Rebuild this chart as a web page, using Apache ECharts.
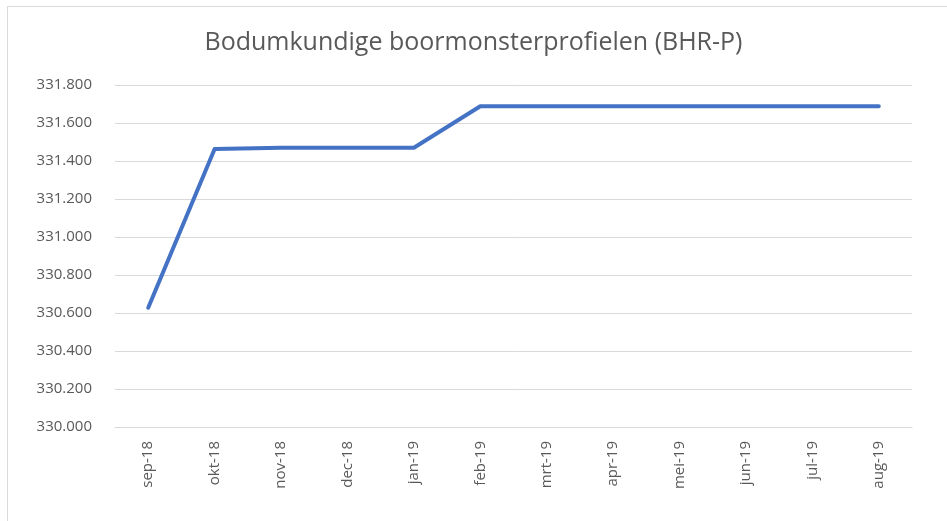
<!DOCTYPE html>
<html lang="nl">

<head>
    <meta charset="UTF-8">
    <title>Bodumkundige boormonsterprofielen (BHR-P)</title>
    <style>
        body {
            margin: 0;
            background-color: #fff;
        }

        .frame {
            position: absolute;
            left: 7px;
            top: 6px;
            width: 960px;
            height: 540px;
            border: 1px solid #d9d9d9;
        }

        #chart {
            position: absolute;
            left: 0;
            top: 0;
            width: 947px;
            height: 521px;
        }
    </style>
</head>

<body>
    <div class="frame"></div>
    <div id="chart"></div>
    <script src="https://cdn.jsdelivr.net/npm/echarts@6/dist/echarts.min.js"></script>
    <script>
        const months = ['sep-18', 'okt-18', 'nov-18', 'dec-18', 'jan-19', 'feb-19',
            'mrt-19', 'apr-19', 'mei-19', 'jun-19', 'jul-19', 'aug-19'];
        const values = [330628, 331463, 331470, 331470, 331470, 331688,
            331688, 331688, 331688, 331688, 331688, 331688];

        const textColor = '#595959';
        const font = 'Open Sans';

        // 331800 -> "331.800"
        function fmt(v) {
            return String(Math.round(v)).replace(/\B(?=(\d{3})+(?!\d))/g, '.');
        }

        const chart = echarts.init(document.getElementById('chart'));
        chart.setOption({
            animation: false,
            title: {
                text: 'Bodumkundige boormonsterprofielen (BHR-P)',
                left: 'center',
                top: 25,
                textStyle: {
                    color: textColor,
                    fontFamily: font,
                    fontSize: 25,
                    fontWeight: 'normal'
                }
            },
            grid: {
                left: 115,
                right: 35,
                top: 85,
                bottom: 94
            },
            xAxis: {
                type: 'category',
                data: months,
                boundaryGap: true,
                axisLine: { lineStyle: { color: '#d9d9d9', width: 1 } },
                axisTick: { show: false },
                axisLabel: {
                    rotate: 90,
                    margin: 14,
                    color: textColor,
                    fontFamily: font,
                    fontSize: 15
                }
            },
            yAxis: {
                type: 'value',
                min: 330000,
                max: 331800,
                interval: 200,
                axisLine: { show: false },
                axisTick: { show: false },
                splitLine: { lineStyle: { color: '#d9d9d9', width: 1 } },
                axisLabel: {
                    margin: 23,
                    color: textColor,
                    fontFamily: font,
                    fontSize: 15,
                    formatter: fmt
                }
            },
            series: [{
                type: 'line',
                data: values,
                symbol: 'none',
                lineStyle: { color: '#4472c4', width: 4, cap: 'round', join: 'round' }
            }]
        });
    </script>
</body>

</html>
